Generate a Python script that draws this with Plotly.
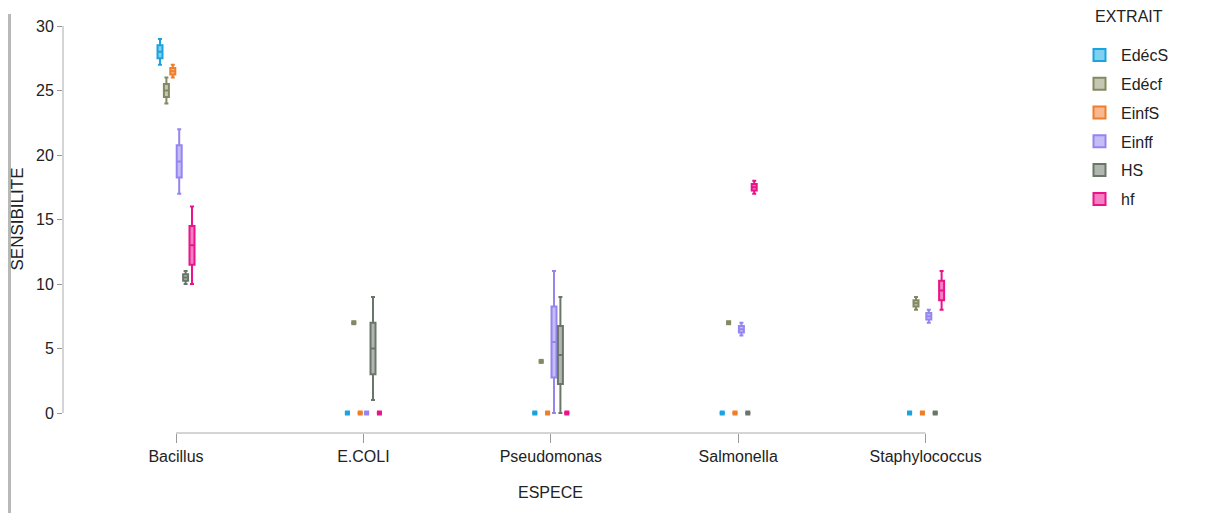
import plotly.graph_objects as go

species = ["Bacillus", "E.COLI", "Pseudomonas", "Salmonella", "Staphylococcus"]

EdecS = [[27, 28, 29], [0, 0, 0], [0, 0, 0], [0, 0, 0], [0, 0, 0]]
Edecf = [[24, 25, 26], [7, 7, 7], [4, 4, 4], [7, 7, 7], [8, 8.5, 9]]
EinfS = [[26, 26.5, 27], [0, 0, 0], [0, 0, 0], [0, 0, 0], [0, 0, 0]]
Einff = [[17, 19.5, 22], [0, 0, 0], [0, 5.5, 11], [6, 6.5, 7], [7, 7.5, 8]]
HS = [[10, 10.5, 11], [1, 5, 9], [0, 4.5, 9], [0, 0, 0], [0, 0, 0]]
hf = [[10, 13, 16], [0, 0, 0], [0, 0, 0], [17, 17.5, 18], [8, 9.5, 11]]

series_names = ["EdécS", "Edécf", "EinfS", "Einff", "HS", "hf"]
series_data = [EdecS, Edecf, EinfS, Einff, HS, hf]
line_colors = ["#1aa3df", "#858963", "#f07d28", "#9485f0", "#6b766b", "#ea1389"]
fill_colors = ["#7fd1f0", "#c4c7b1", "#f7b892", "#c5bdf5", "#b1b6ae", "#f47fc2"]

yticks = [0, 5, 10, 15, 20, 25, 30]

FONT = "Liberation Sans, Arial, sans-serif"

fig = go.Figure()
for name, data, lc, fc in zip(series_names, series_data, line_colors, fill_colors):
    xs, ys = [], []
    for sp, vals in zip(species, data):
        xs += [sp] * len(vals)
        ys += vals
    fig.add_trace(go.Box(
        x=xs, y=ys, name=name, boxpoints=False, quartilemethod="inclusive",
        line=dict(color=lc, width=2), fillcolor=fc,
        whiskerwidth=0.8, legendgroup=name, offsetgroup=name,
    ))

# groups where all replicates are equal are drawn as a small solid square
for name, data, lc in zip(series_names, series_data, line_colors):
    ys = [vals[0] if min(vals) == max(vals) else None for vals in data]
    fig.add_trace(go.Scatter(
        x=species, y=ys, mode="markers", name=name, showlegend=False,
        legendgroup=name, offsetgroup=name, hoverinfo="skip",
        marker=dict(symbol="square", size=5, color=lc, line=dict(width=0)),
    ))

# page has an 8px body margin; work in page pixels and convert
OFF = 8
W, H = 1209 - OFF, 513 - OFF
left_px, right_px, top_px, bottom_px = 63, 1080, 26, 433  # plot area in page px
ml, mt = left_px - OFF, top_px - OFF
mr = W - (right_px - OFF)
mb = H - (bottom_px - OFF)
plot_w = right_px - left_px
plot_h = bottom_px - top_px


def px_x(p):
    return (p - left_px) / plot_w


def px_y(p):
    return (bottom_px - p) / plot_h


fig.update_layout(
    width=W, height=H,
    margin=dict(l=ml, r=mr, t=mt, b=mb, autoexpand=False),
    boxmode="group", boxgap=0.795, boxgroupgap=0.22,
    scattermode="group", scattergap=0.795,
    plot_bgcolor="white", paper_bgcolor="white",
    font=dict(family=FONT, size=16, color="#222"),
    xaxis=dict(
        type="category", categoryorder="array", categoryarray=species,
        range=[-0.603, -0.603 + plot_w / 187.4],
        showline=False, showgrid=False, zeroline=False,
        ticks="outside", ticklen=9, tickcolor="#999", tickwidth=1,
        tickfont=dict(family=FONT, size=16, color="#222"),
    ),
    yaxis=dict(
        range=[-1.55, 30], tickvals=yticks,
        showline=False, showgrid=False, zeroline=False,
        ticks="outside", ticklen=5, tickcolor="#999", tickwidth=1,
        tickfont=dict(family=FONT, size=16, color="#222"),
    ),
    legend=dict(
        x=px_x(1078), xanchor="left",
        y=px_y(38), yanchor="top",
        font=dict(family=FONT, size=16, color="#222"),
        tracegroupgap=5, itemwidth=33,
    ),
    showlegend=True,
)

# axis lines (domain only, as in the original)
fig.add_shape(type="line", xref="paper", yref="y", x0=0, x1=0, y0=0, y1=30,
              line=dict(color="#aaa", width=1))
fig.add_shape(type="line", xref="x", yref="paper", x0=0, x1=len(species) - 1, y0=0, y1=0,
              line=dict(color="#aaa", width=1))
# window edge shadow
fig.add_shape(type="line", xref="paper", yref="paper",
              x0=px_x(9.5), x1=px_x(9.5), y0=px_y(520), y1=px_y(14),
              line=dict(color="#b8b8b8", width=3))

fig.add_annotation(text="EXTRAIT", xref="paper", yref="paper",
                   x=px_x(1093), y=px_y(17), showarrow=False,
                   xanchor="left", yanchor="middle",
                   font=dict(family=FONT, size=16, color="#222"))
fig.add_annotation(text="SENSIBILITE", xref="paper", yref="y",
                   x=px_x(17), y=15, textangle=-90, showarrow=False,
                   xanchor="center", yanchor="middle",
                   font=dict(family=FONT, size=17, color="#222"))
fig.add_annotation(text="ESPECE", xref="x", yref="paper",
                   x=2, y=px_y(492), showarrow=False,
                   xanchor="center", yanchor="middle",
                   font=dict(family=FONT, size=16, color="#222"))

fig.write_html("out.html")
